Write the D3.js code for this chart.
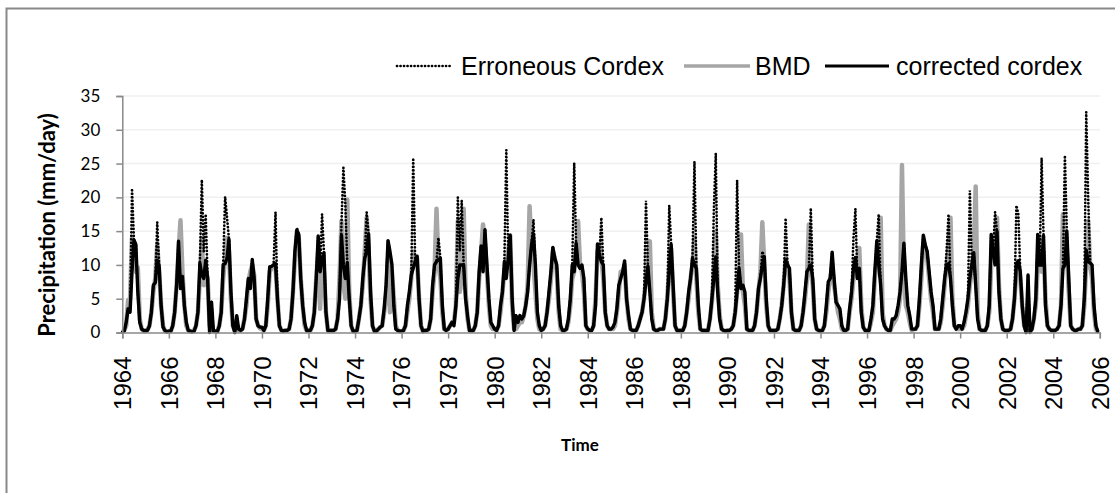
<!DOCTYPE html>
<html>
<head>
<meta charset="utf-8">
<script src="https://cdn.jsdelivr.net/npm/d3@7"></script>
<style>
  body { margin: 0; background: #fff; }
  svg { display: block; }
</style>
</head>
<body>
<div id="chart"></div>
<script>
// monthly precipitation (mm/day), Jan..Dec, one row per year 1964-2005
var startYear = 1964,
    endYear = 2006;

var seriesNames = ["Erroneous Cordex", "BMD", "corrected cordex"];

var erroneous = [
  0.1,0.2,1.5,3.5,3.0,21.3,13.7,13.0,6.0,1.5,0.5,0.3,
  0.3,0.3,1.0,3.0,7.0,7.4,16.3,9.8,4.0,0.8,0.3,0.1,
  0.2,0.2,1.0,3.0,7.0,13.5,6.5,8.3,4.0,1.5,0.3,0.2,
  0.1,0.2,1.0,3.0,10.3,22.6,12.0,17.5,8.0,0.0,4.5,0.2,
  0.2,0.1,1.0,3.0,10.0,20.1,17.0,13.8,6.0,1.0,0.0,2.5,
  0.5,0.3,0.5,2.0,5.0,8.0,6.5,10.8,8.0,2.0,1.0,0.8,
  0.8,0.3,1.0,5.0,9.7,9.8,10.0,17.8,5.0,1.0,0.3,0.2,
  0.3,0.3,0.5,2.0,6.0,12.0,15.5,14.5,8.0,4.0,1.5,0.3,
  0.3,0.3,1.0,3.0,8.0,14.3,9.0,17.5,11.8,3.0,0.3,0.3,
  0.3,0.3,0.5,2.0,5.0,16.0,24.4,19.0,10.3,5.0,1.0,0.2,
  0.2,0.3,2.0,4.0,8.0,11.0,17.8,14.6,6.0,1.0,0.2,0.2,
  0.5,0.8,1.0,3.5,7.0,13.6,12.0,10.1,4.0,0.5,0.3,0.2,
  0.2,0.3,1.0,4.0,6.0,8.5,25.8,10.5,11.3,5.0,1.0,0.2,
  0.3,0.3,0.5,2.0,7.0,10.0,10.5,14.0,11.0,4.0,0.5,0.3,
  0.5,1.0,1.5,1.0,4.0,20.0,12.0,19.5,10.0,5.0,2.5,0.3,
  0.3,0.3,1.0,3.0,9.0,12.8,9.0,15.2,10.0,5.0,1.5,1.0,
  0.5,0.3,1.0,4.0,6.0,10.5,27.0,11.0,14.4,5.0,0.3,2.5,
  1.5,2.5,2.0,2.5,4.0,6.0,10.0,13.0,16.7,10.0,3.0,1.0,
  0.3,0.5,1.0,3.0,6.0,9.0,12.6,11.0,10.0,4.0,1.0,0.3,
  0.3,0.5,2.0,5.0,10.0,25.1,13.2,10.0,9.5,10.0,8.0,1.0,
  0.5,0.3,0.3,1.0,4.0,13.1,11.5,17.0,10.0,3.0,1.0,0.5,
  0.5,0.8,1.5,3.5,7.0,8.0,9.0,10.6,5.0,2.5,0.5,0.3,
  0.3,0.3,1.0,2.0,3.0,5.0,19.5,9.8,6.0,2.0,0.5,0.3,
  0.3,0.5,0.5,0.5,2.0,5.0,18.8,13.0,7.0,1.0,0.3,0.3,
  0.3,0.3,1.0,3.0,6.0,8.0,11.0,25.3,9.5,4.0,0.5,0.3,
  0.3,0.3,0.3,2.0,5.0,18.0,26.5,6.0,2.0,0.5,0.3,0.2,
  0.3,0.3,0.5,1.0,3.0,22.5,9.5,6.5,7.0,6.0,0.5,0.3,
  0.3,0.3,1.0,3.0,6.5,8.0,12.0,11.2,5.0,1.0,0.3,0.3,
  0.3,0.3,0.5,2.0,4.0,7.0,16.9,10.0,9.5,3.0,0.5,0.3,
  0.3,0.3,1.0,3.0,6.0,9.0,9.5,18.4,8.0,2.0,0.5,0.3,
  0.2,0.3,1.0,4.0,7.5,8.0,11.9,8.0,4.5,4.0,3.5,1.0,
  0.3,0.3,0.5,3.5,6.0,14.0,18.3,8.0,9.5,3.0,0.8,0.3,
  0.3,0.3,2.0,4.0,9.0,13.5,17.5,7.0,2.0,1.0,0.5,0.3,
  0.3,2.0,2.0,2.5,4.0,6.0,9.0,13.2,8.0,4.0,2.5,0.5,
  0.5,0.5,1.0,5.0,10.0,14.4,13.0,12.0,9.0,6.0,4.0,0.5,
  0.5,0.5,2.0,5.0,8.0,12.0,17.5,8.0,4.0,1.0,0.5,1.0,
  1.0,0.5,1.5,3.0,5.0,21.0,10.0,11.8,7.0,2.0,0.5,0.3,
  0.3,0.3,1.0,4.0,14.5,12.0,17.8,15.0,6.0,2.0,0.5,0.3,
  0.3,0.3,0.5,2.0,5.0,18.8,17.5,9.0,4.0,1.0,0.0,8.5,
  0.0,0.5,2.0,5.0,14.5,10.0,25.8,14.3,4.0,1.0,0.5,0.3,
  0.3,0.3,0.5,1.0,4.0,9.5,26.2,15.0,8.0,1.0,0.5,0.3,
  0.3,0.5,0.5,1.0,5.0,32.6,20.0,10.3,10.0,4.0,1.0,0.1
];

var bmd = [
  0.2,0.3,1.0,4.8,5.0,14.0,12.0,9.0,9.6,2.0,0.5,0.2,
  0.2,0.4,1.0,3.0,6.0,8.0,13.0,9.0,4.0,1.0,0.2,0.1,
  0.2,0.2,1.0,3.0,7.0,12.0,16.6,9.0,4.0,1.0,0.3,0.2,
  0.2,0.3,1.0,3.0,8.0,14.0,7.0,9.0,8.0,1.0,0.3,0.2,
  0.2,0.2,1.0,3.0,8.0,11.0,14.0,12.0,5.0,1.0,0.3,0.3,
  0.3,0.3,0.6,2.0,4.0,7.5,9.0,10.0,8.5,2.0,1.0,0.6,
  0.5,0.3,1.0,4.0,9.0,9.5,10.0,9.8,5.0,1.0,0.3,0.2,
  0.3,0.3,0.5,2.0,6.0,11.0,15.0,14.0,8.0,4.0,1.0,0.3,
  0.3,0.3,1.0,3.0,8.0,12.0,3.5,10.0,9.0,3.0,0.3,0.3,
  0.3,0.3,0.5,2.0,8.0,16.5,7.0,5.0,19.7,6.0,1.0,0.2,
  0.2,0.3,2.0,4.0,7.0,12.0,17.0,12.0,5.0,1.0,0.2,0.2,
  0.5,0.8,1.0,3.0,5.0,11.0,3.0,9.0,5.0,1.0,0.3,0.2,
  0.2,0.3,1.0,3.0,5.0,8.0,12.0,10.0,11.0,5.0,1.0,0.2,
  0.3,0.3,0.5,2.0,6.0,9.0,18.3,10.0,8.0,3.0,0.5,0.3,
  0.5,1.0,1.5,1.5,4.0,16.5,6.0,8.0,18.3,6.0,2.0,0.3,
  0.3,0.3,1.0,3.0,8.0,12.0,16.0,13.0,9.0,4.0,1.0,0.5,
  0.5,0.3,1.0,3.0,6.0,9.0,10.0,12.0,14.4,4.0,0.5,0.5,
  1.0,1.5,1.5,2.5,4.0,7.0,18.7,12.0,10.0,6.0,2.0,0.5,
  0.3,0.5,1.0,3.0,5.0,8.0,12.0,11.0,9.0,3.0,0.5,0.3,
  0.3,0.5,1.5,4.0,8.0,9.0,12.0,16.5,10.0,9.0,6.0,1.0,
  0.5,0.3,0.3,1.0,5.0,12.0,13.0,11.0,8.0,3.0,1.0,0.5,
  0.5,0.5,1.0,3.0,6.0,9.0,9.0,10.0,5.0,2.0,0.5,0.3,
  0.3,0.3,1.0,2.0,3.0,5.0,8.0,10.0,13.5,3.0,0.5,0.3,
  0.3,0.5,0.5,0.5,2.0,5.0,10.0,12.4,6.0,1.0,0.3,0.3,
  0.3,0.3,1.0,3.0,5.0,8.0,10.0,14.0,8.0,3.0,0.5,0.3,
  0.3,0.3,0.3,2.0,4.5,9.0,15.0,7.0,2.5,0.5,0.3,0.2,
  0.3,0.3,0.5,1.0,3.0,6.0,9.0,14.5,6.0,4.0,0.5,0.3,
  0.3,0.3,1.0,3.0,6.0,9.0,16.3,10.0,4.0,1.0,0.3,0.3,
  0.3,0.3,0.5,2.0,4.0,7.0,11.0,10.0,8.0,3.0,0.5,0.3,
  0.3,0.3,1.0,3.0,5.0,8.0,16.0,9.0,7.0,2.0,0.5,0.3,
  0.3,0.3,1.0,3.0,6.0,8.0,9.6,7.0,5.0,3.0,2.0,0.5,
  0.3,0.3,0.5,3.0,5.0,8.0,10.0,9.0,12.5,4.0,0.8,0.3,
  0.3,0.3,1.5,3.0,8.0,11.0,12.0,17.0,3.0,1.0,0.5,0.3,
  0.3,1.0,1.5,2.0,3.0,5.0,24.8,8.0,4.0,3.0,1.5,0.3,
  0.5,0.5,1.0,4.0,8.0,13.2,12.0,11.0,8.0,5.0,3.0,0.5,
  0.5,0.5,1.5,4.0,7.0,10.0,12.0,17.0,5.0,1.0,0.5,0.5,
  0.5,0.5,1.0,2.5,4.0,7.0,9.0,12.0,21.6,3.0,0.5,0.3,
  0.3,0.3,1.0,3.0,10.0,13.0,12.0,17.0,7.0,2.0,0.5,0.3,
  0.3,0.3,0.5,2.0,5.0,9.0,10.5,8.0,4.0,1.0,0.3,0.3,
  0.3,0.5,2.0,4.0,10.0,14.0,9.0,12.0,5.0,1.0,0.5,0.3,
  0.3,0.3,0.5,1.0,4.0,17.5,10.0,12.0,6.0,1.0,0.5,0.3,
  0.3,0.5,0.5,1.0,4.0,10.0,16.5,10.0,8.0,3.0,0.5,0.1
];

var corrected = [
  0.1,0.2,1.5,3.5,3.0,9.0,13.7,13.0,6.0,1.5,0.5,0.3,
  0.3,0.3,1.0,3.0,7.0,7.4,10.7,9.8,4.0,0.8,0.3,0.1,
  0.2,0.2,1.0,3.0,7.0,13.5,6.5,8.3,4.0,1.5,0.3,0.2,
  0.1,0.2,1.0,3.0,10.3,8.5,8.0,10.7,8.0,0.0,4.5,0.2,
  0.2,0.1,1.0,3.0,10.0,10.2,11.0,13.8,6.0,1.0,0.0,2.5,
  0.5,0.3,0.5,2.0,5.0,8.0,6.5,10.8,8.0,2.0,1.0,0.8,
  0.8,0.3,1.0,5.0,9.7,9.8,10.0,10.2,5.0,1.0,0.3,0.2,
  0.3,0.3,0.5,2.0,6.0,12.0,15.1,14.5,8.0,4.0,1.5,0.3,
  0.3,0.3,1.0,3.0,8.0,14.3,9.0,11.0,11.8,3.0,0.3,0.3,
  0.3,0.3,0.5,2.0,5.0,14.4,10.0,8.0,10.3,5.0,1.0,0.2,
  0.2,0.3,2.0,4.0,8.0,11.0,12.0,14.6,6.0,1.0,0.2,0.2,
  0.5,0.8,1.0,3.5,7.0,13.6,12.0,10.1,4.0,0.5,0.3,0.2,
  0.2,0.3,1.0,4.0,6.0,8.5,9.5,10.5,11.3,5.0,1.0,0.2,
  0.3,0.3,0.5,2.0,7.0,10.0,10.5,10.8,11.0,4.0,0.5,0.3,
  0.5,1.0,1.5,1.0,4.0,8.0,10.0,10.0,10.0,5.0,2.5,0.3,
  0.3,0.3,1.0,3.0,9.0,12.8,9.0,15.2,10.0,5.0,1.5,1.0,
  0.5,0.3,1.0,4.0,6.0,10.5,8.0,11.0,14.4,5.0,0.3,2.5,
  1.5,2.5,2.0,2.5,4.0,6.0,10.0,13.0,14.6,10.0,3.0,1.0,
  0.3,0.5,1.0,3.0,6.0,9.0,12.6,11.0,10.0,4.0,1.0,0.3,
  0.3,0.5,2.0,5.0,10.0,9.0,13.2,10.0,9.5,10.0,8.0,1.0,
  0.5,0.3,0.3,1.0,4.0,13.1,11.5,10.5,10.0,3.0,1.0,0.5,
  0.5,0.8,1.5,3.5,7.0,8.0,9.0,10.6,5.0,2.5,0.5,0.3,
  0.3,0.3,1.0,2.0,3.0,5.0,7.5,9.8,6.0,2.0,0.5,0.3,
  0.3,0.5,0.5,0.5,2.0,5.0,9.0,13.0,7.0,1.0,0.3,0.3,
  0.3,0.3,1.0,3.0,6.0,8.0,11.0,10.0,9.5,4.0,0.5,0.3,
  0.3,0.3,0.3,2.0,5.0,8.0,11.2,6.0,2.0,0.5,0.3,0.2,
  0.3,0.3,0.5,1.0,3.0,6.0,9.5,6.5,7.0,6.0,0.5,0.3,
  0.3,0.3,1.0,3.0,6.5,8.0,10.0,11.2,5.0,1.0,0.3,0.3,
  0.3,0.3,0.5,2.0,4.0,7.0,10.7,10.0,9.5,3.0,0.5,0.3,
  0.3,0.3,1.0,3.0,6.0,9.0,9.5,10.0,8.0,2.0,0.5,0.3,
  0.2,0.3,1.0,4.0,7.5,8.0,11.9,8.0,4.5,4.0,3.5,1.0,
  0.3,0.3,0.5,3.5,6.0,9.5,11.1,8.0,9.5,3.0,0.8,0.3,
  0.3,0.3,2.0,4.0,9.0,13.5,10.0,7.0,2.0,1.0,0.5,0.3,
  0.3,2.0,2.0,2.5,4.0,6.0,9.0,13.2,8.0,4.0,2.5,0.5,
  0.5,0.5,1.0,5.0,10.0,14.4,13.0,12.0,9.0,6.0,4.0,0.5,
  0.5,0.5,2.0,5.0,8.0,10.0,10.2,8.0,4.0,1.0,0.5,1.0,
  1.0,0.5,1.5,3.0,5.0,8.0,10.0,11.8,7.0,2.0,0.5,0.3,
  0.3,0.3,1.0,4.0,14.5,12.0,10.0,15.0,6.0,2.0,0.5,0.3,
  0.3,0.3,0.5,2.0,5.0,10.2,10.6,9.0,4.0,1.0,0.0,8.5,
  0.0,0.5,2.0,5.0,14.5,10.0,10.0,14.3,4.0,1.0,0.5,0.3,
  0.3,0.3,0.5,1.0,4.0,9.5,10.0,15.0,8.0,1.0,0.5,0.3,
  0.3,0.5,0.5,1.0,5.0,12.2,10.5,10.3,10.0,4.0,1.0,0.1
];

var yTicks = [0, 5, 10, 15, 20, 25, 30, 35];
var xTicks = d3.range(startYear, endYear + 1, 2);

var width = 1115,
    height = 493,
    plotLeft = 122.3,
    plotRight = 1099.8,
    plotTop = 96,
    plotBottom = 332.5;

var svg = d3.select("#chart").append("svg")
    .attr("width", width)
    .attr("height", height);

// outer chart frame (right and bottom edges fall outside the picture)
svg.append("rect")
    .attr("x", 6.5).attr("y", 8.5)
    .attr("width", width + 20).attr("height", height + 20)
    .attr("fill", "none")
    .attr("stroke", "#898989")
    .attr("stroke-width", 2);

var x = d3.scaleLinear()
    .domain([startYear, endYear])
    .range([plotLeft, plotRight]);

var y = d3.scaleLinear()
    .domain([0, 35])
    .range([plotBottom, plotTop]);

// gridlines
svg.append("g")
    .selectAll("line")
    .data(yTicks.slice(1))
    .enter().append("line")
    .attr("x1", x(startYear)).attr("x2", x(endYear))
    .attr("y1", function(d) { return y(d); })
    .attr("y2", function(d) { return y(d); })
    .attr("stroke", "#f0f0f0")
    .attr("stroke-width", 1.5);

function toSeries(arr) {
    return arr.map(function(v, i) { return {t: startYear + i / 12, v: v}; });
}

var line = d3.line()
    .x(function(d) { return x(d.t); })
    .y(function(d) { return y(d.v); });

var plot = svg.append("g");

plot.append("path")
    .datum(toSeries(bmd))
    .attr("d", line)
    .attr("fill", "none")
    .attr("stroke", "#a6a6a6")
    .attr("stroke-width", 4.5)
    .attr("stroke-linejoin", "round");

plot.append("path")
    .datum(toSeries(erroneous))
    .attr("d", line)
    .attr("fill", "none")
    .attr("stroke", "#000")
    .attr("stroke-width", 2.7)
    .attr("stroke-linecap", "round")
    .attr("stroke-dasharray", "0.1,3.4");

plot.append("path")
    .datum(toSeries(corrected))
    .attr("d", line)
    .attr("fill", "none")
    .attr("stroke", "#000")
    .attr("stroke-width", 3.4)
    .attr("stroke-linejoin", "round");

// y axis
var yAxis = svg.append("g")
    .attr("transform", "translate(" + plotLeft + ",0)")
    .call(d3.axisLeft(y).tickValues(yTicks).tickSize(6).tickPadding(16));
yAxis.select(".domain").attr("stroke", "#898989").attr("stroke-width", 1.5);
yAxis.selectAll(".tick line").attr("stroke", "#898989").attr("stroke-width", 1.5);
yAxis.selectAll("text")
    .style("font-family", "Lato, 'Open Sans', sans-serif")
    .style("font-size", "17px")
    .attr("fill", "#000");

// x axis
var xAxis = svg.append("g")
    .attr("transform", "translate(0," + plotBottom + ")")
    .call(d3.axisBottom(x).tickValues(xTicks).tickFormat(d3.format("d")).tickSize(6));
xAxis.select(".domain").attr("stroke", "#898989").attr("stroke-width", 1.5);
xAxis.selectAll(".tick line").attr("stroke", "#898989").attr("stroke-width", 1.5);
xAxis.selectAll("text")
    .style("font-family", "'Liberation Sans', Arial, sans-serif")
    .style("font-size", "24px")
    .attr("fill", "#000")
    .attr("text-anchor", "end")
    .attr("transform", "rotate(-90)")
    .attr("x", -24)
    .attr("y", 0)
    .attr("dy", "0.35em");

// axis titles
svg.append("text")
    .attr("transform", "translate(47,225) rotate(-90)")
    .attr("text-anchor", "middle")
    .attr("dy", "0.35em")
    .style("font-family", "Lato, 'Open Sans', sans-serif")
    .style("font-weight", "bold")
    .style("font-size", "22px")
    .text("Precipitation (mm/day)");

svg.append("text")
    .attr("x", 580)
    .attr("y", 451)
    .attr("text-anchor", "middle")
    .style("font-family", "Lato, 'Open Sans', sans-serif")
    .style("font-weight", "bold")
    .style("font-size", "17px")
    .text("Time");

// legend
var legendItems = [
    {name: seriesNames[0], x1: 397, x2: 451, tx: 461, stroke: "#000", w: 2.7, dash: "0.1,3.4"},
    {name: seriesNames[1], x1: 684, x2: 750, tx: 755, stroke: "#a6a6a6", w: 3.5, dash: null},
    {name: seriesNames[2], x1: 825, x2: 889, tx: 896, stroke: "#000", w: 3, dash: null}
];

var legend = svg.append("g").attr("transform", "translate(0,66)");
legendItems.forEach(function(d) {
    legend.append("line")
        .attr("x1", d.x1).attr("x2", d.x2)
        .attr("y1", 0).attr("y2", 0)
        .attr("stroke", d.stroke)
        .attr("stroke-width", d.w)
        .attr("stroke-linecap", d.dash ? "round" : "butt")
        .attr("stroke-dasharray", d.dash);
    legend.append("text")
        .attr("x", d.tx)
        .attr("y", 0)
        .attr("dy", "0.35em")
        .style("font-family", "'Liberation Sans', Arial, sans-serif")
        .style("font-size", "25px")
        .text(d.name);
});
</script>
</body>
</html>
